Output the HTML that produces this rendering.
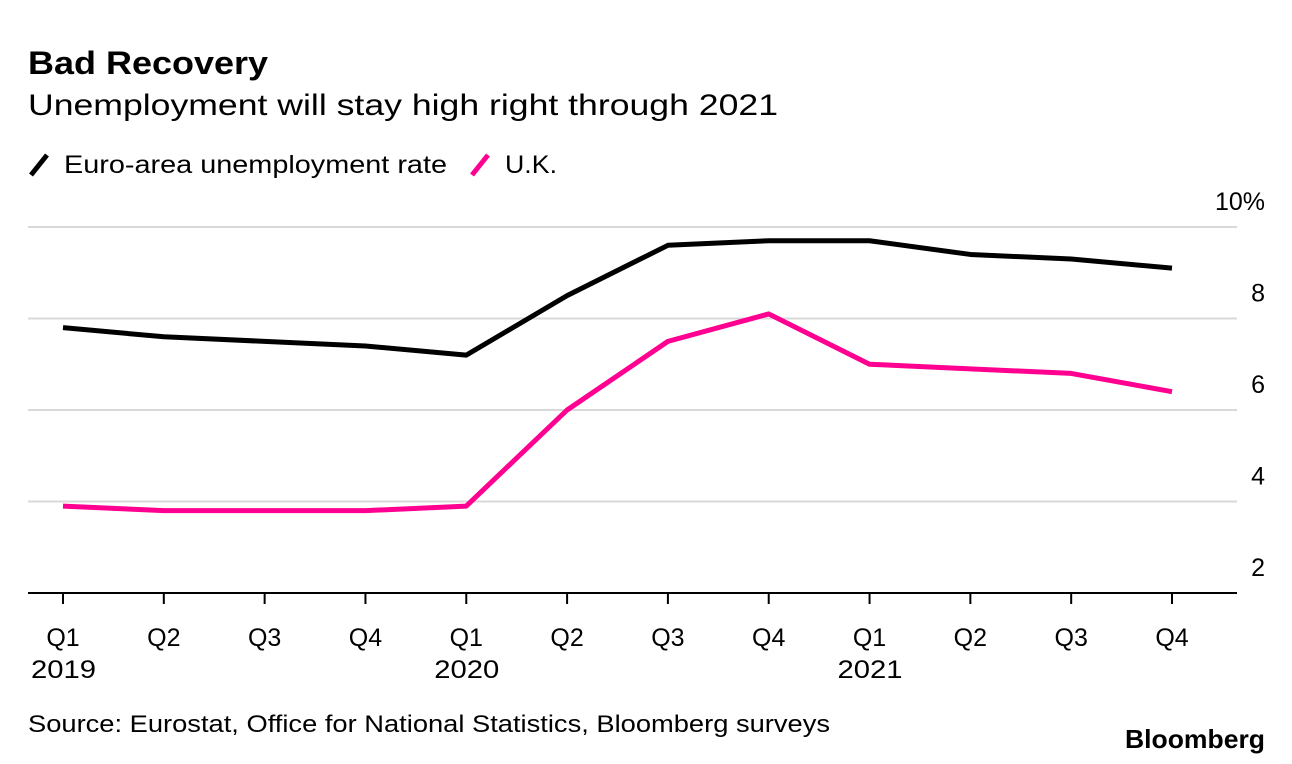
<!DOCTYPE html>
<html><head><meta charset="utf-8"><style>
body{margin:0;background:#fff;width:1292px;height:764px;overflow:hidden;font-family:"Liberation Sans",sans-serif;}
svg{position:absolute;left:0;top:0}
</style></head><body>
<svg width="1292" height="764">
<text x="28" y="74" font-size="32" font-weight="bold" textLength="240" lengthAdjust="spacingAndGlyphs">Bad Recovery</text>
<text x="28" y="115" font-size="30" textLength="750" lengthAdjust="spacingAndGlyphs">Unemployment will stay high right through 2021</text>
<g>
<line x1="31" y1="175" x2="47" y2="155" stroke="#000" stroke-width="5"/>
<text x="64" y="173" font-size="25" textLength="383" lengthAdjust="spacingAndGlyphs">Euro-area unemployment rate</text>
<line x1="472" y1="175" x2="488" y2="155" stroke="#ff0090" stroke-width="5"/>
<text x="505" y="173" font-size="25" textLength="52" lengthAdjust="spacingAndGlyphs">U.K.</text>
</g>
<g id="grid"></g><g id="xaxis"></g><g id="lines"></g>
<text x="28" y="732" font-size="24" textLength="802" lengthAdjust="spacingAndGlyphs">Source: Eurostat, Office for National Statistics, Bloomberg surveys</text>
<text x="1125" y="748" font-size="26" font-weight="bold" textLength="140" lengthAdjust="spacingAndGlyphs">Bloomberg</text>
</svg>
<script>
const quarters=["Q1","Q2","Q3","Q4","Q1","Q2","Q3","Q4","Q1","Q2","Q3","Q4"];
const years=["2019","","","","2020","","","","2021","","",""];
const euro=[7.8,7.6,7.5,7.4,7.2,8.5,9.6,9.7,9.7,9.4,9.3,9.1];
const uk=[3.9,3.8,3.8,3.8,3.9,6.0,7.5,8.1,7.0,6.9,6.8,6.4];
const yTicks=[2,4,6,8,10];
const yLabels=["2","4","6","8","10%"];
const NS="http://www.w3.org/2000/svg";
const x=i=>63+i*(1172-63)/(quarters.length-1);
const y=v=>593-(v-2)*(593-227)/8;
function mk(tag,attrs,parent){const e=document.createElementNS(NS,tag);for(const k in attrs)e.setAttribute(k,attrs[k]);document.getElementById(parent).appendChild(e);return e;}
yTicks.forEach((v,i)=>{
 if(v>2){const l=mk('line',{x1:28,x2:1237,y1:y(v),y2:y(v),stroke:'#d9d9d9','stroke-width':2},'grid');
 
 }
 const t=mk('text',{x:1265,y:y(v)-17,'font-size':25,'text-anchor':'end'},'grid');
 t.textContent=yLabels[i];
 
 
});
const ax=mk('line',{x1:28,x2:1237,y1:593,y2:593,stroke:'#000','stroke-width':2},'xaxis');


quarters.forEach((q,i)=>{
 const tk=mk('line',{x1:x(i),x2:x(i),y1:593,y2:604,stroke:'#000','stroke-width':2},'xaxis');
 
 
 const t=mk('text',{x:x(i),y:646,'font-size':25,'text-anchor':'middle'},'xaxis');
 t.textContent=q;
 
 
 if(years[i]){const yt=mk('text',{x:x(i)-32,y:678,'font-size':25,textLength:65,lengthAdjust:'spacingAndGlyphs'},'xaxis');
 yt.textContent=years[i];
 
 }
});
[[euro,'#000','euro-line'],[uk,'#ff0090','uk-line']].forEach(([d,c,n])=>{
 const p=mk('polyline',{points:d.map((v,i)=>x(i)+','+y(v)).join(' '),fill:'none',stroke:c,'stroke-width':5,'stroke-linejoin':'round'},'lines');
 
 
});
</script>
</body></html>
